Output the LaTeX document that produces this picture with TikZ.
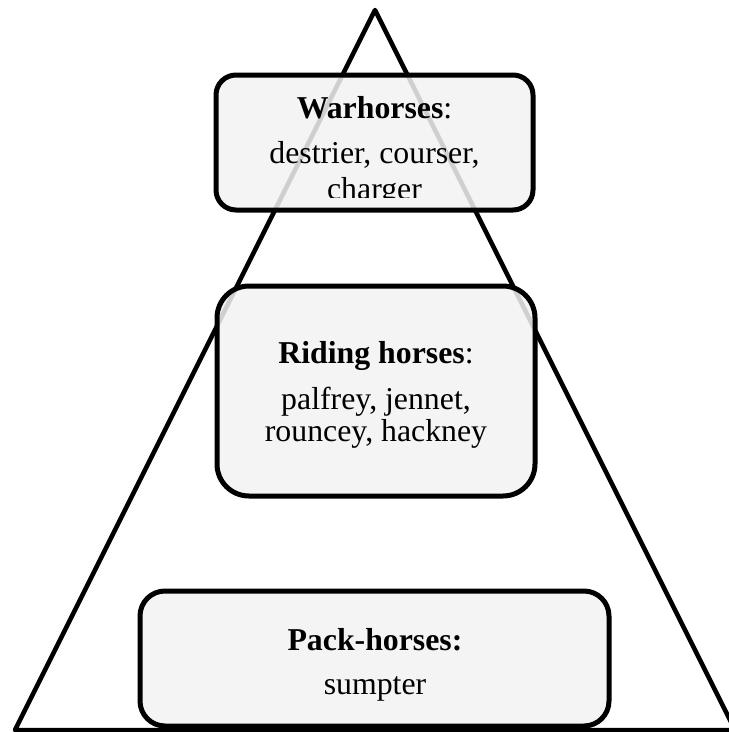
\documentclass[tikz,border=0pt]{standalone}
\usepackage{fontspec}
\setmainfont{Liberation Serif}
\definecolor{boxfill}{RGB}{242,242,242}
\begin{document}
\begin{tikzpicture}[x=1pt,y=-1pt,
  tri/.style={draw=black,line width=4.5pt,line join=round},
  tierbox/.style={draw=black,line width=5pt,fill=boxfill,fill opacity=0.86,draw opacity=1,inner sep=0pt,outer sep=0pt,rectangle},
  txt/.style={anchor=base,inner sep=0pt,font=\fontsize{31.8}{28}\selectfont}]
\useasboundingbox (0,0) rectangle (729,732);
% pyramid
\draw[tri] (375,10) -- (15,730) -- (735,730) -- cycle;
% boxes
\node[tierbox,rounded corners=20pt,minimum width=317pt,minimum height=135pt] (w) at (374.5,142.5) {};
\node[tierbox,rounded corners=32pt,minimum width=318pt,minimum height=210pt] (r) at (376,391) {};
\node[tierbox,rounded corners=25pt,minimum width=469pt,minimum height=135pt] (p) at (374.5,658.5) {};
% texts
\begin{scope}
\clip (216,75) rectangle (533,197.5);
\node[txt] (w1) at (374.5,118) {\textbf{Warhorses}:};
\node[txt] (w2) at (374.5,163) {destrier, courser,};
\node[txt] (w3) at (374.5,199) {charger};
\end{scope}
\node[txt] (r1) at (376,363) {\textbf{Riding horses}:};
\node[txt] (r2) at (376,409) {palfrey, jennet,};
\node[txt] (r3) at (376,441) {rouncey, hackney};
\node[txt] (p1) at (375,650) {\textbf{Pack-horses:}};
\node[txt] (p2) at (375,694) {sumpter};
\end{tikzpicture}
\end{document}
